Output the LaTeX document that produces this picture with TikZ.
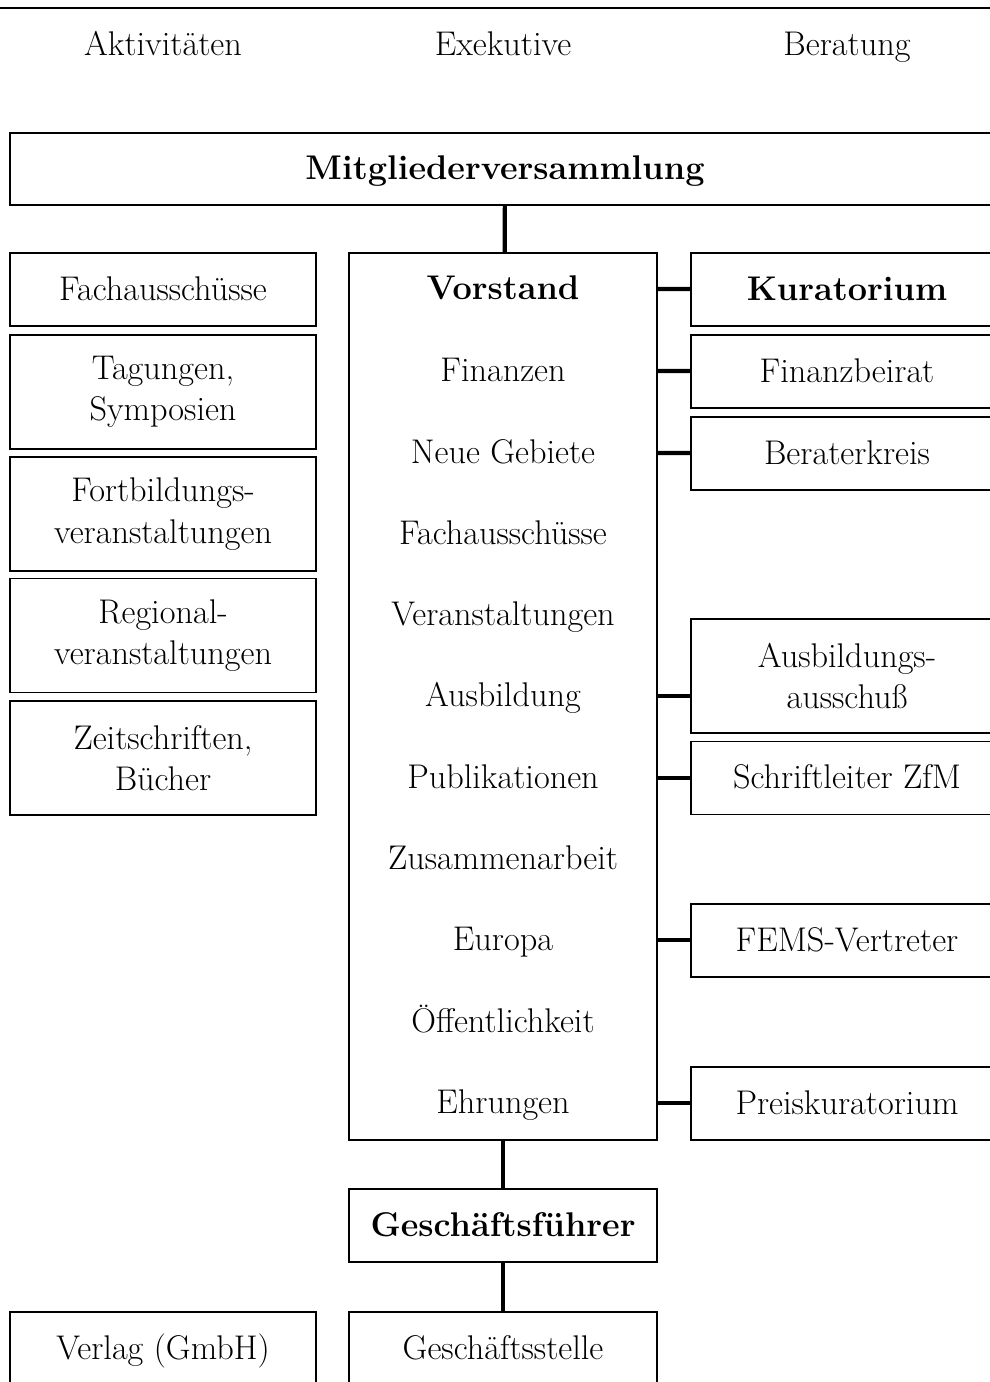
\documentclass[tikz,border=0pt]{standalone}
\usepackage{fontspec}
\tikzset{
  frame/.style={draw,line width=0.7pt,align=center,inner sep=0pt},
  box/.style={frame,minimum height=1.46cm,text height=14pt,text depth=2pt},
  tallbox/.style={frame,minimum height=2.28cm},
  label/.style={text height=14pt,text depth=2pt},
  lw/.style={minimum width=6.12cm},
  mw/.style={minimum width=6.16cm},
  rw/.style={minimum width=6.24cm},
  link/.style={line width=2.4pt}
}
\begin{document}
\begin{tikzpicture}[x=0.02cm,y=-0.02cm,font=\fontsize{19.5}{23.5}\selectfont]
      \useasboundingbox (0,0) rectangle (990,1382);
      \clip (0,0) rectangle (990,1382);
      \draw[line width=1.2pt] (0,8) -- (990,8);
      % column heads
      \node[label] (hakt) at (163,45) {Aktivitäten};
      \node[label] (hexe) at (503,45) {Exekutive};
      \node[label] (hber) at (847,45) {Beratung};
      % top
      \node[box,minimum width=19.8cm,minimum height=1.44cm] (mv) at (505,169) {\bfseries Mitgliederversammlung};
      % Aktivitaeten
      \node[box,lw] (fach) at (163,289.5) {Fachausschüsse};
      \node[tallbox,lw] (tag) at (163,392) {Tagungen,\\Symposien};
      \node[tallbox,lw] (fort) at (163,514) {Fortbildungs-\\veranstaltungen};
      \node[tallbox,lw] (reg) at (163,635.5) {Regional-\\veranstaltungen};
      \node[tallbox,lw] (zeit) at (163,758) {Zeitschriften,\\Bücher};
      \node[box,lw] (verlag) at (163,1348.5) {Verlag (GmbH)};
      % Exekutive
      \node[frame,mw,minimum height=17.74cm] (vorstand) at (503,696.5) {};
      \node[label] (v1) at (503,289) {\bfseries Vorstand};
      \node[label] (v2) at (503,371) {Finanzen};
      \node[label] (v3) at (503,453) {Neue Gebiete};
      \node[label] (v4) at (503,534) {Fachausschüsse};
      \node[label] (v5) at (503,615) {Veranstaltungen};
      \node[label] (v6) at (503,696) {Ausbildung};
      \node[label] (v7) at (503,778) {Publikationen};
      \node[label] (v8) at (503,859) {Zusammenarbeit};
      \node[label] (v9) at (503,940) {Europa};
      \node[label] (v10) at (503,1022) {Öffentlichkeit};
      \node[label] (v11) at (503,1103) {Ehrungen};
      \node[box,mw] (gf) at (503,1225.5) {\bfseries Geschäftsführer};
      \node[box,mw] (gs) at (503,1348.5) {Geschäftsstelle};
      % Beratung
      \node[box,rw] (kur) at (847,289.5) {\bfseries Kuratorium};
      \node[box,rw] (fin) at (847,371.5) {Finanzbeirat};
      \node[box,rw] (berk) at (847,453.5) {Beraterkreis};
      \node[tallbox,rw] (ausb) at (847,676) {Ausbildungs-\\ausschuß};
      \node[box,rw] (schr) at (847,778) {Schriftleiter ZfM};
      \node[box,rw] (fems) at (847,940.5) {FEMS-Vertreter};
      \node[box,rw] (preis) at (847,1103.5) {Preiskuratorium};
      \begin{scope}[link]
        \draw (mv) to (vorstand);
        \draw (vorstand) to (gf);
        \draw (gf) to (gs);
        \draw (v1 -| vorstand.east) to (kur);
        \draw (v2 -| vorstand.east) to (fin);
        \draw (v3 -| vorstand.east) to (berk);
        \draw (v6 -| vorstand.east) to (v6 -| ausb.west);
        \draw (v7 -| vorstand.east) to (v7 -| schr.west);
        \draw (v9 -| vorstand.east) to (v9 -| fems.west);
        \draw (v11 -| vorstand.east) to (v11 -| preis.west);
      \end{scope}
    \end{tikzpicture}
\end{document}
